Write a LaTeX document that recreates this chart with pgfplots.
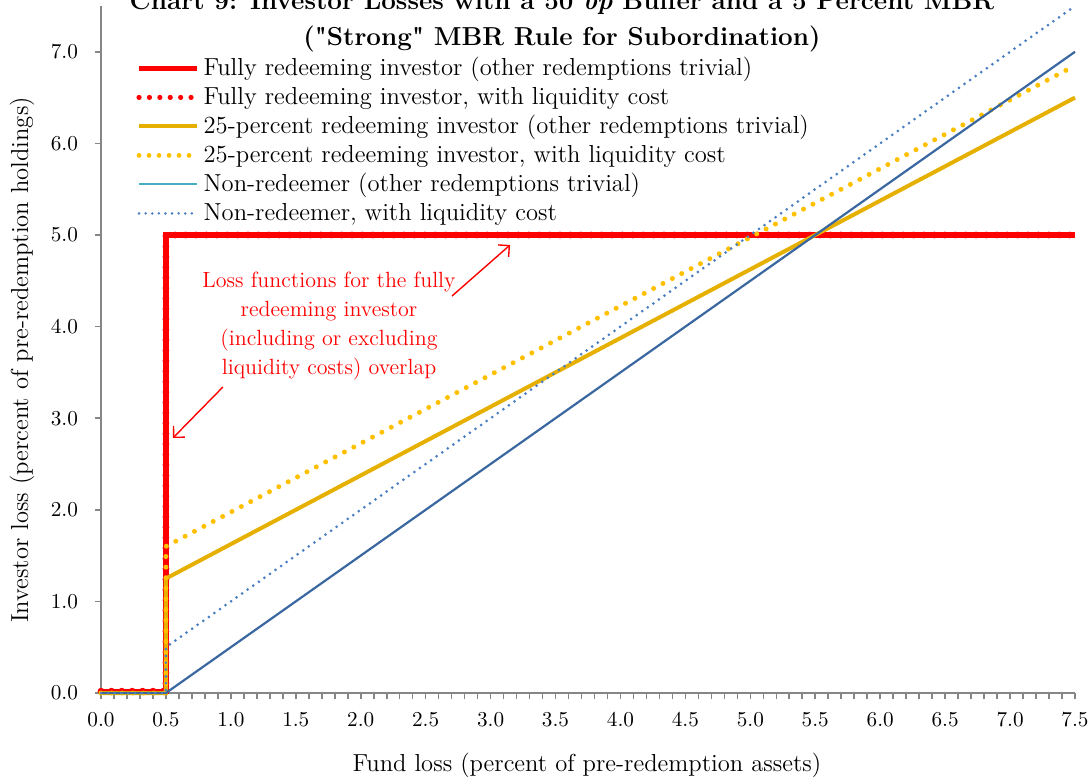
\documentclass[border=0pt]{standalone}
\usepackage{pgfplots}
\pgfplotsset{compat=1.18}
\usetikzlibrary{arrows.meta}
\definecolor{cred}{HTML}{FF0000}
\definecolor{cgold}{HTML}{E6B000}
\definecolor{cgoldd}{HTML}{FFC000}
\definecolor{clblue}{HTML}{4BACC6}
\definecolor{cdblue}{HTML}{3A67A0}
\definecolor{cdot}{HTML}{4A7EC2}
\definecolor{axgray}{HTML}{868686}
\begin{document}
\begin{tikzpicture}
\begin{axis}[
  at={(0,0)}, anchor=south west,
  scale only axis, width=487pt, height=343.5pt,
  xmin=0, xmax=7.5, ymin=0, ymax=7.5,
  axis lines*=left,
  axis line style={axgray, line width=0.8pt, -},
  xtick={0,0.5,1,1.5,2,2.5,3,3.5,4,4.5,5,5.5,6,6.5,7,7.5},
  minor x tick num=4,
  ytick={0,1,2,3,4,5,6,7},
  tick align=outside, major tick length=3pt, minor tick length=3pt,
  tick style={axgray, line width=0.8pt},
  /pgf/number format/assume math mode=true,
  /pgf/number format/.cd, fixed, fixed zerofill, precision=1, /pgfplots/.cd,
  tick label style={font=\fontsize{10.6}{12}\selectfont},
  xticklabel style={yshift=-3pt},
  yticklabel style={xshift=-5pt},
  xlabel={Fund loss (percent of pre-redemption assets)},
  ylabel={Investor loss (percent of pre-redemption holdings)},
  label style={font=\fontsize{12.3}{14}\selectfont},
  x label style={at={(axis description cs:0.499,-0.1048)}, anchor=center},
  y label style={at={(axis description cs:-0.0811,0.4847)}, anchor=center},
  clip=false,
  legend image code/.code={\draw[#1] (0pt,0pt) -- (29pt,0pt);},
  legend cell align=left,
  legend style={at={(axis cs:0.27,6.943)}, anchor=north west, draw=none, fill=none,
    inner sep=0pt, row sep=3.5pt, font=\fontsize{12.3}{14}\selectfont,
    nodes={inner sep=0pt, text height=9pt, text depth=2pt},
    /tikz/every odd column/.append style={column sep=2pt}},
]
% legend entries
\addlegendimage{cred, line width=2.6pt}
\addlegendentry{Fully redeeming investor (other redemptions trivial)}
\addlegendimage{cred, line width=2.6pt, line cap=round, dash pattern=on 0pt off 5.2pt}
\addlegendentry{Fully redeeming investor, with liquidity cost}
\addlegendimage{cgold, line width=2pt}
\addlegendentry{25-percent redeeming investor (other redemptions trivial)}
\addlegendimage{cgoldd, line width=2.4pt, line cap=round, dash pattern=on 0pt off 5pt}
\addlegendentry{25-percent redeeming investor, with liquidity cost}
\addlegendimage{clblue, line width=1pt}
\addlegendentry{Non-redeemer (other redemptions trivial)}
\addlegendimage{cdot, line width=1.4pt, line cap=round, dash pattern=on 0pt off 3.3pt}
\addlegendentry{Non-redeemer, with liquidity cost}
% data
\addplot[forget plot, cred, line width=2.6pt] coordinates {(0,0.02) (0.5,0.02) (0.5,5) (7.5,5)};
\addplot[forget plot, cred, line width=3.4pt, line cap=round, dash pattern=on 0pt off 5.2pt] coordinates {(0,0.02) (0.5,0.02) (0.5,5) (7.5,5)};
\addplot[forget plot, cgold, line width=2pt] coordinates {(0,0) (0.5,0) (0.5,1.25) (7.5,6.5)};
\addplot[forget plot, cgoldd, line width=2.5pt, line cap=round, dash pattern=on 0pt off 5.3pt] coordinates {(0,0) (0.5,0) (0.5,1.6) (7.5,6.85)};
\addplot[forget plot, cdblue, line width=1.1pt] coordinates {(0,0) (0.5,0) (7.5,7)};
\addplot[forget plot, cdot, line width=1.5pt, line cap=round, dash pattern=on 0pt off 3.4pt] coordinates {(0,0) (0.5,0) (0.5,0.5) (7.5,7.5)};
% annotations
\node[text=cred, align=center, font=\fontsize{11}{14.5}\selectfont] at (axis cs:1.756,4.007)
  {Loss functions for the fully\\ redeeming investor\\ (including or excluding\\ liquidity costs) overlap};
\draw[cred, line width=0.7pt, -{Straight Barb[length=4pt,width=8pt]}] (axis cs:2.703,4.334) -- (axis cs:3.150,4.891);
\draw[cred, line width=0.7pt, -{Straight Barb[length=4pt,width=8pt]}] (axis cs:0.939,3.341) -- (axis cs:0.554,2.784);
% title
\node[anchor=base, font=\fontsize{13}{15}\bfseries] at (axis description cs:0.4733,0.9942)
  {Chart 9: Investor Losses with a 50 \textit{bp} Buffer and a 5 Percent MBR};
\node[anchor=base, font=\fontsize{13}{15}\bfseries] at (axis description cs:0.4733,0.9418)
  {(\textquotedbl Strong\textquotedbl{} MBR Rule for Subordination)};
\end{axis}
\pgfresetboundingbox
\useasboundingbox (-50.5pt,-44.5pt) rectangle (495.5pt,346.5pt);
\end{tikzpicture}
\end{document}
